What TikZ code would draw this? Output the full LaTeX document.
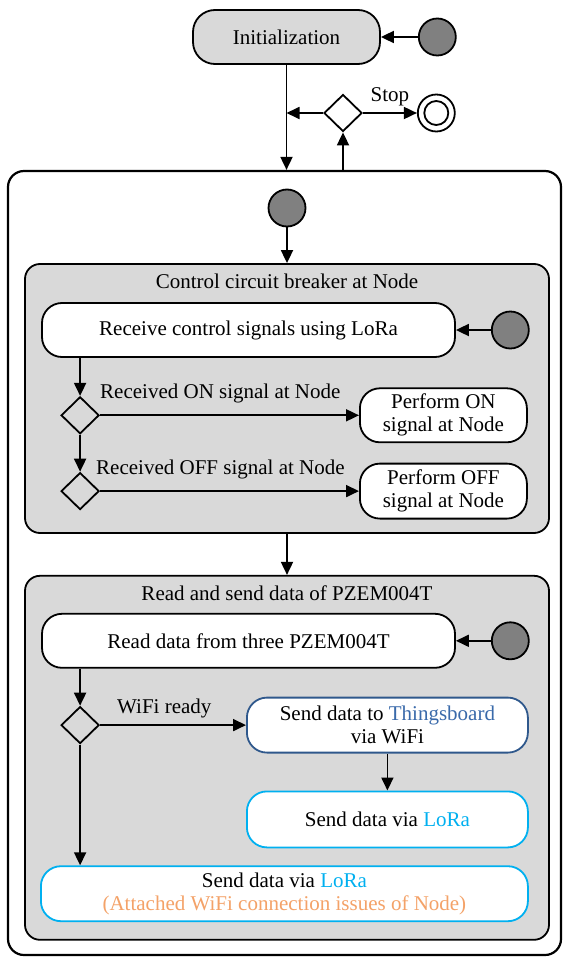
\documentclass[tikz,border=0pt]{standalone}
\usepackage{fontspec}
\setmainfont{Liberation Serif}
\usepackage{xcolor}
\usepackage{tikz}
\usetikzlibrary{shapes,arrows.meta,positioning,fit,backgrounds}
\newcommand{\diagfont}{\fontsize{21}{23}\selectfont}
\definecolor{startgray}{RGB}{128, 128, 128}
\definecolor{groupgray}{RGB}{217, 217, 217}
\definecolor{boardblue}{RGB}{47, 88, 140}
\definecolor{boardtext}{RGB}{58, 106, 170}
\definecolor{loracyan}{RGB}{0, 176, 240}
\definecolor{issueorange}{RGB}{244, 162, 104}
\tikzstyle{statebox} = [rectangle, rounded corners=20pt, draw=black, line width=1.8pt, fill=white, align=center, font=\diagfont, inner sep=0pt]
\tikzstyle{groupbox} = [rectangle, rounded corners=15pt, draw=black, line width=1.8pt, fill=groupgray, inner sep=0pt]
\tikzstyle{initstate} = [circle, draw=black, line width=1.8pt, fill=startgray, minimum size=37pt, inner sep=0pt]
\tikzstyle{endstate} = [circle, draw=black, line width=1.8pt, fill=white, minimum size=37pt, inner sep=0pt, path picture={\draw[line width=1.8pt] (path picture bounding box.center) circle (12pt);}]
\tikzstyle{decision} = [diamond, draw=black, line width=1.8pt, minimum width=38pt, minimum height=37pt, inner sep=0pt]
\tikzstyle{textonly} = [draw=none, fill=none, font=\diagfont, inner sep=0pt]
\tikzstyle{tedge}  = [draw, line width=1.8pt, -{Triangle[length=13pt,width=12pt]}]

\begin{document}
\begin{tikzpicture}[x=1pt, y=-1pt]
\useasboundingbox (0,0) rectangle (563,958);

% top level =============================
\node[statebox, fill=groupgray, rounded corners=22pt, minimum width=187pt, minimum height=54pt] (init) at (286.5,37) {Initialization};
\node[initstate, right=37pt of init] (start0) {};
\node[decision, fill=white] (choice) at (343,113) {};
\node[endstate, right=54pt of choice] (final) {};
\node[statebox, line width=2.2pt, rounded corners=16pt, minimum width=553pt, minimum height=784pt] (main) at (284.5,563) {};

% control circuit breaker ================
\node[initstate] (start1) at (287,208) {};
\node[groupbox, minimum width=524pt, minimum height=269pt] (ctrl) at (287,398.5) {};
\node[textonly, below=11pt of ctrl.north] (ctrltitle) {Control circuit breaker at Node};
\node[statebox, minimum width=413pt, minimum height=54pt, below right=39pt and 17pt of ctrl.north west] (recv) {Receive control signals using LoRa};
\node[initstate, right=35pt of recv] (start2) {};
\node[decision, below=38pt of recv.south west, xshift=39pt] (ondec) {};
\node[decision, below=37pt of ondec] (offdec) {};
\node[statebox, minimum width=167pt, minimum height=54pt, right=259pt of ondec] (onbox) {Perform ON\\signal at Node};
\node[statebox, minimum width=167pt, minimum height=55pt, right=259pt of offdec] (offbox) {Perform OFF\\signal at Node};
\node[textonly, above right=12pt and 0pt of ondec.east] (onlabel) {Received ON signal at Node};
\node[textonly, above right=12pt and -4pt of offdec.east] (offlabel) {Received OFF signal at Node};

% read and send data =====================
\node[groupbox, minimum width=524pt, minimum height=364pt, below=41pt of ctrl] (pzem) {};
\node[textonly, below=11pt of pzem.north] (pzemtitle) {Read and send data of PZEM004T};
\node[statebox, minimum width=413pt, minimum height=54pt, below right=38pt and 17pt of pzem.north west] (read) {Read data from three PZEM004T};
\node[initstate, right=35pt of read] (start3) {};
\node[decision, below=37pt of read.south west, xshift=39pt] (wifidec) {};
\node[textonly, above right=7pt and 17pt of wifidec.east] (wifilabel) {WiFi ready};
\node[statebox, draw=boardblue, minimum width=281pt, minimum height=55pt, right=146pt of wifidec] (board) {Send data to \textcolor{boardtext}{Thingsboard}\\via WiFi};
\node[statebox, draw=loracyan, minimum width=281pt, minimum height=56pt, below=37pt of board] (lorabox) {Send data via \textcolor{loracyan}{LoRa}};
\node[statebox, draw=loracyan, minimum width=487pt, minimum height=55pt, below left=17pt and 0pt of lorabox.south east] (issuebox) {Send data via \textcolor{loracyan}{LoRa}\\\textcolor{issueorange}{(Attached WiFi connection issues of Node)}};

% edges
\path[tedge] (start0) -- (init);
\path[tedge] (init.south) -- (init.south |- main.north);
\path[tedge] (choice.west) -- (init.south |- choice.west);
\path[tedge] (choice.east) -- node[textonly, above=6pt] {Stop} (final);
\path[tedge] (choice |- main.north) -- (choice.south);
\path[tedge] (start1) -- (ctrl);
\path[tedge] (start2) -- (recv);
\path[tedge] (recv.south -| ondec) -- (ondec.north);
\path[tedge] (ondec.south) -- (offdec.north);
\path[tedge] (ondec) -- (onbox);
\path[tedge] (offdec) -- (offbox);
\path[tedge] (ctrl) -- (pzem);
\path[tedge] (start3) -- (read);
\path[tedge] (read.south -| wifidec) -- (wifidec.north);
\path[tedge] (wifidec) -- (board);
\path[tedge] (board) -- (lorabox);
\path[tedge] (wifidec.south) -- (wifidec.south |- issuebox.north);

\end{tikzpicture}
\end{document}
